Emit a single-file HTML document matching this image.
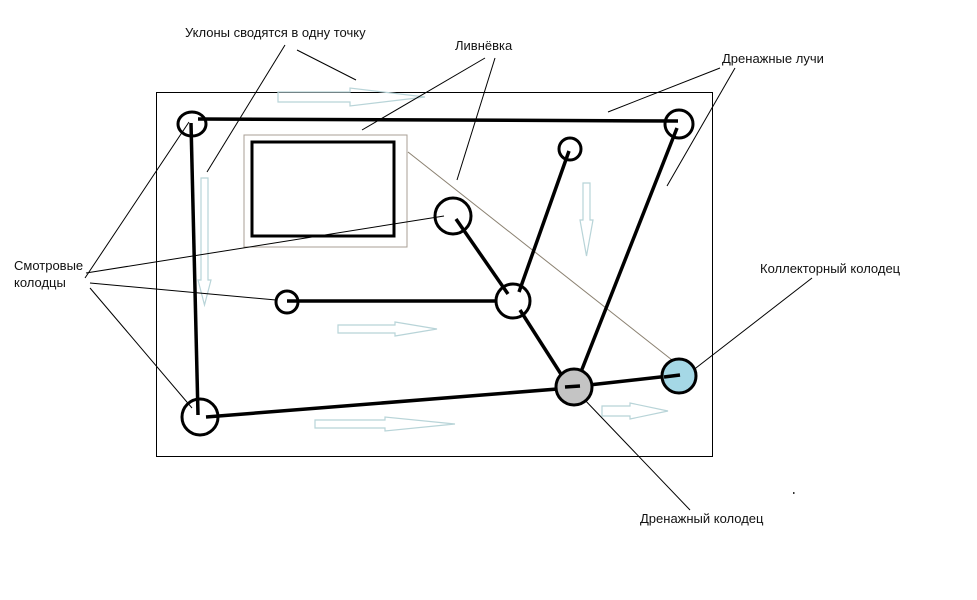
<!DOCTYPE html>
<html><head><meta charset="utf-8"><style>
body{margin:0;background:#fff}
text{font-family:"Liberation Sans",sans-serif;font-size:13px;fill:#111}
</style></head><body>
<svg width="977" height="595" viewBox="0 0 977 595" xmlns="http://www.w3.org/2000/svg">
<rect x="156.5" y="92.5" width="556" height="364" fill="none" stroke="#000" stroke-width="1"/>
<!-- light blue arrows -->
<g fill="none" stroke="#b8d4d8" stroke-width="1.2">
<polygon points="278,92 350,92 350,88 425,97 350,106 350,102 278,102"/>
<polygon points="201,178 208,178 208,280 211,280 204.5,305 198,280 201,280"/>
<polygon points="338,325 395,325 395,322 437,329 395,336 395,333 338,333"/>
<polygon points="315,420 385,420 385,417 455,424 385,431 385,428 315,428"/>
<polygon points="602,406 630,406 630,403 668,411 630,419 630,416 602,416"/>
<polygon points="583,183 590,183 590,220 593,220 586.5,256 580,220 583,220"/>
</g>
<!-- inner rects -->
<rect x="244" y="135" width="163" height="112" fill="none" stroke="#a89f95" stroke-width="1"/>
<rect x="252" y="142" width="142" height="94" fill="none" stroke="#000" stroke-width="3"/>
<line x1="408" y1="152" x2="672" y2="360" stroke="#8a8070" stroke-width="1"/>
<!-- leader lines -->
<g stroke="#000" stroke-width="1">
<line x1="297" y1="50" x2="356" y2="80"/>
<line x1="285" y1="45" x2="207" y2="172"/>
<line x1="485" y1="58" x2="362" y2="130"/>
<line x1="495" y1="58" x2="457" y2="180"/>
<line x1="720" y1="68" x2="608" y2="112"/>
<line x1="735" y1="68" x2="667" y2="186"/>
<line x1="85" y1="278" x2="189" y2="122"/>
<line x1="86" y1="273" x2="444" y2="216"/>
<line x1="90" y1="283" x2="276" y2="300"/>
<line x1="90" y1="288" x2="192" y2="408"/>
<line x1="812" y1="278" x2="692" y2="371"/>
<line x1="690" y1="510" x2="582" y2="397"/>
</g>
<!-- thick pipes -->
<g stroke="#000" stroke-width="3.5" fill="none">
<line x1="198" y1="119" x2="678" y2="121"/>
<line x1="191" y1="123" x2="198" y2="415"/>
<line x1="206" y1="417" x2="570" y2="388"/>
<line x1="580" y1="386" x2="678" y2="375"/>
<line x1="287" y1="301" x2="497" y2="301"/>
<line x1="456" y1="219" x2="508" y2="294"/>
<line x1="519" y1="292" x2="569" y2="151"/>
<line x1="520" y1="310" x2="566" y2="382"/>
<line x1="577" y1="382" x2="677" y2="128"/>
</g>
<!-- wells -->
<g stroke="#000" stroke-width="3" fill="none">
<ellipse cx="192" cy="124" rx="14" ry="12"/>
<circle cx="679" cy="124" r="14"/>
<circle cx="570" cy="149" r="11"/>
<circle cx="453" cy="216" r="18"/>
<circle cx="287" cy="302" r="11"/>
<circle cx="513" cy="301" r="17"/>
<circle cx="200" cy="417" r="18"/>
<circle cx="574" cy="387" r="18" fill="#c4c4c4"/>
<circle cx="679" cy="376" r="17" fill="#a5d8e6"/>
</g>
<g stroke="#000" stroke-width="3.5">
<line x1="565" y1="387" x2="580" y2="386"/>
<line x1="664" y1="377" x2="680" y2="375"/>
</g>
<!-- labels -->
<text x="185" y="37">Уклоны сводятся в одну точку</text>
<text x="455" y="50">Ливнёвка</text>
<text x="722" y="63">Дренажные лучи</text>
<text x="14" y="270">Смотровые</text>
<text x="14" y="287">колодцы</text>
<text x="760" y="273">Коллекторный колодец</text>
<text x="640" y="523">Дренажный колодец</text>
<rect x="793" y="492" width="1.5" height="2" fill="#333"/>
</svg>
</body></html>
